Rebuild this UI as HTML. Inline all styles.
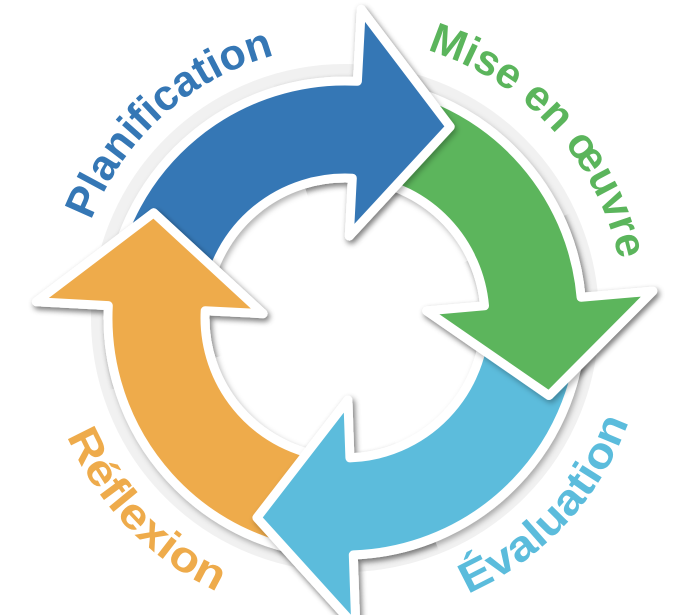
<!DOCTYPE html>
<html><head><meta charset="utf-8"><style>
html,body{margin:0;padding:0;background:#fff;width:693px;height:615px;overflow:hidden}
text{font-family:"Liberation Sans",sans-serif;font-weight:bold;font-size:43px}
</style></head><body>
<svg id="s" width="693" height="615" viewBox="0 0 693 615" xmlns="http://www.w3.org/2000/svg">
<defs>
<filter id="sh" x="-20%" y="-20%" width="140%" height="140%"><feDropShadow dx="2" dy="3" stdDeviation="3" flood-color="#000" flood-opacity="0.3"/></filter>
</defs>
<circle cx="345" cy="318" r="247" fill="none" stroke="#f1f1f1" stroke-width="14"/>
<g id="arrows"></g>
<g id="labels"></g>
</svg>
<script>
var cx=345,cy=318,r=140,R=237,NS="http://www.w3.org/2000/svg";
function P(rad,a){a=a*Math.PI/180;return [cx+rad*Math.cos(a),cy+rad*Math.sin(a)];}
function f(p){return p[0].toFixed(1)+" "+p[1].toFixed(1);}
function arrow(a0,a1){
 var o0=P(R,a0),o1=P(R,a1),i0=P(r,a0),i1=P(r,a1);
 var ho=P(R+72,a1),hi=P(r-58,a1),m=P((r+R)/2+8,a1);
 var t=a1*Math.PI/180,tip=[m[0]-95*Math.sin(t),m[1]+95*Math.cos(t)];
 var large=((a1-a0+360)%360)>180?1:0;
 return "M"+f(o0)+" A"+R+" "+R+" 0 "+large+" 1 "+f(o1)+" L"+f(ho)+" L"+f(tip)+" L"+f(hi)+" L"+f(i1)+" A"+r+" "+r+" 0 "+large+" 0 "+f(i0)+" Z";
}
var g=document.getElementById("arrows"),defs=document.querySelector("defs");
function add(d,col,clip){var p=document.createElementNS(NS,"path");p.setAttribute("d",d);p.setAttribute("fill",col);p.setAttribute("stroke","#fff");p.setAttribute("stroke-width","9");p.setAttribute("stroke-linejoin","round");p.setAttribute("filter","url(#sh)");if(clip)p.setAttribute("clip-path",clip);g.appendChild(p);}
var A=[[188,273,"#3577b5"],[278,355,"#5bb55c"],[0,88,"#5bbcdc"],[93,183,"#eeab4b"]];
A.forEach(function(x){x.d=arrow(x[0],x[1]);add(x.d,x[2]);});
A.forEach(function(x,i){
 var cp=document.createElementNS(NS,"clipPath");cp.setAttribute("id","c"+i);
 var w=document.createElementNS(NS,"path");
 var a=P(440,x[1]-20),b=P(440,x[1]+5),c=P(440,x[1]+38);
 w.setAttribute("d","M"+cx+" "+cy+" L"+f(a)+" L"+f(b)+" L"+f(c)+" Z");cp.appendChild(w);defs.appendChild(cp);
 add(x.d,x[2],"url(#c"+i+")");
});
var L=document.getElementById("labels");
function arcPath(id,rad,a0,a1){var p0=P(rad,a0),p1=P(rad,a1);var sweep=a1>a0?1:0;var pe=document.createElementNS(NS,"path");pe.setAttribute("id",id);pe.setAttribute("fill","none");pe.setAttribute("d","M"+f(p0)+" A"+rad+" "+rad+" 0 0 "+sweep+" "+f(p1));defs.appendChild(pe);return Math.abs(a1-a0)*Math.PI/180*rad;}
function label(id,txt,rad,a0,a1,col){var len=arcPath(id,rad,a0,a1);var t=document.createElementNS(NS,"text");t.setAttribute("fill",col);var tp=document.createElementNS(NS,"textPath");tp.setAttribute("href","#"+id);tp.setAttribute("textLength",len.toFixed(0));tp.setAttribute("lengthAdjust","spacingAndGlyphs");tp.textContent=txt;t.appendChild(tp);L.appendChild(t);}
label("l1","Planification",272,201,255,"#3577b5");
label("l2","Mise en œuvre",280,287,348,"#5bb55c");
label("l3","Évaluation",302,66,20,"#5bbcdc");
label("l4","Réflexion",302,157,115,"#eeab4b");
</script>
</body></html>
